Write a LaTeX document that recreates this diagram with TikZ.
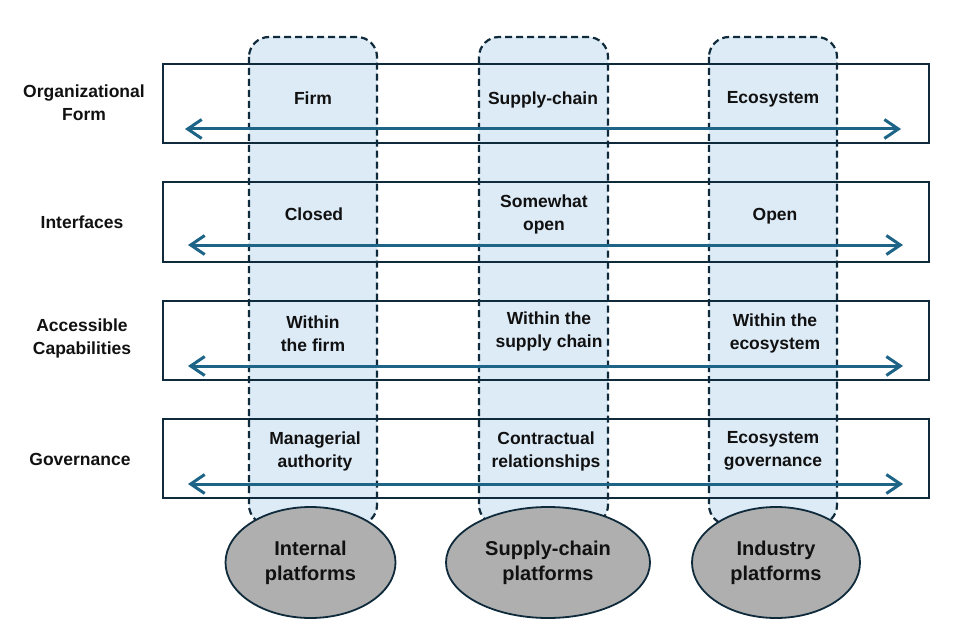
\documentclass[tikz,border=0pt]{standalone}
\usepackage{fontspec}
\setmainfont{Liberation Sans}
\usetikzlibrary{arrows.meta,shapes.geometric}
\definecolor{colfill}{HTML}{DDEBF7}
\definecolor{navy}{HTML}{0F2A3B}
\definecolor{arrowblue}{HTML}{1D6487}
\definecolor{ellfill}{HTML}{AFAFAF}
\definecolor{txt}{HTML}{111111}
\tikzset{
  colbox/.style={fill=colfill, draw=navy, line width=2.2pt, dash pattern=on 7pt off 4pt, rounded corners=20pt},
  rowbox/.style={draw=navy, line width=2.4pt},
  dblarrow/.style={arrowblue, line width=3pt, {Straight Barb[length=14pt,width=19pt]}-{Straight Barb[length=14pt,width=19pt]}},
  lbl/.style={font=\fontsize{17.5}{23}\selectfont\bfseries, text=txt, align=center, inner sep=0pt},
  plat/.style={ellipse, fill=ellfill, draw=navy, line width=1.8pt, inner sep=0pt, font=\fontsize{20}{25}\selectfont\bfseries, text=txt, align=center}
}
\begin{document}
\begin{tikzpicture}[x=1pt,y=-1pt]
\useasboundingbox (0,0) rectangle (960,644);
% columns
\path[colbox] (249,37) rectangle (377,525);
\path[colbox] (479,37) rectangle (608,525);
\path[colbox] (709,37) rectangle (837,525);
% rows
\node[rowbox, minimum width=766pt, minimum height=79pt, anchor=north west, inner sep=0pt] (row1) at (162,63) {};
\node[rowbox, minimum width=766pt, minimum height=80pt, anchor=north west, inner sep=0pt] (row2) at (162,181) {};
\node[rowbox, minimum width=766pt, minimum height=79pt, anchor=north west, inner sep=0pt] (row3) at (162,300) {};
\node[rowbox, minimum width=766pt, minimum height=79pt, anchor=north west, inner sep=0pt] (row4) at (162,418) {};
% arrows
\coordinate (a1l) at (185,129); \coordinate (a1r) at (901,129);
\coordinate (a2l) at (188,245); \coordinate (a2r) at (903,245);
\coordinate (a3l) at (188,366); \coordinate (a3r) at (903,366);
\coordinate (a4l) at (188,484); \coordinate (a4r) at (903,484);
\draw[dblarrow] (a1l) -- (a1r);
\draw[dblarrow] (a2l) -- (a2r);
\draw[dblarrow] (a3l) -- (a3r);
\draw[dblarrow] (a4l) -- (a4r);
% left labels
\node[lbl] (l1) at (84,102.5) {Organizational\\Form};
\node[lbl] (l2) at (82,222.5) {Interfaces};
\node[lbl] (l3) at (82,338.5) {Accessible\\Capabilities};
\node[lbl] (l4) at (80,459) {Governance};
% cell texts
\node[lbl] (c11) at (313,98.5) {Firm};
\node[lbl] (c12) at (543,100) {Supply-chain};
\node[lbl] (c13) at (773,99.5) {Ecosystem};
\node[lbl] (c21) at (314,214.5) {Closed};
\node[lbl] (c22) at (544,214) {Somewhat\\open};
\node[lbl] (c23) at (775,216) {Open};
\node[lbl] (c31) at (313,333.5) {Within\\the firm};
\node[lbl] (c32) at (549,331) {Within the\\supply chain};
\node[lbl] (c33) at (775,333) {Within the\\ecosystem};
\node[lbl] (c41) at (315,451) {Managerial\\authority};
\node[lbl] (c42) at (546,451) {Contractual\\relationships};
\node[lbl] (c43) at (773,451) {Ecosystem\\governance};
% platforms
\node[plat, minimum width=170pt, minimum height=111pt] (p1) at (310.5,562.5) {Internal\\platforms};
\node[plat, minimum width=204pt, minimum height=111pt] (p2) at (548,562.5) {Supply-chain\\platforms};
\node[plat, minimum width=168pt, minimum height=111pt] (p3) at (776,562.5) {Industry\\platforms};
\end{tikzpicture}
\end{document}
